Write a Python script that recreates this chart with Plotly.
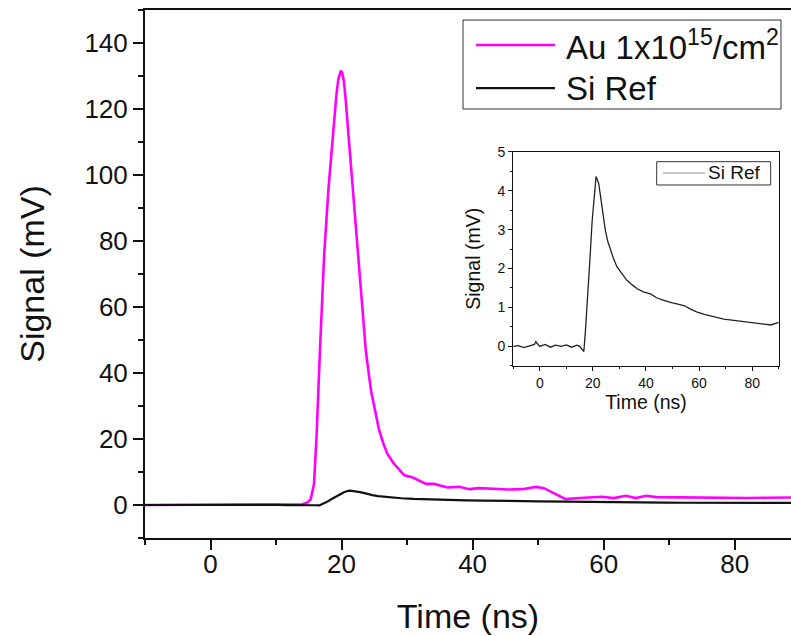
import plotly.graph_objects as go

# ---- data ----
au_t = [-10, 0, 10, 14, 14.8, 15.3, 15.8, 16.2, 16.7, 17.35, 18.0, 18.8, 19.2, 19.5, 19.75,
        19.9, 20.1, 20.35, 20.6, 20.9, 21.7, 22.4, 23.2, 23.7, 24.5, 25.7, 26.4, 27.0, 28.0,
        28.8, 29.6, 30.8, 31.8, 32.9, 34.1, 35.2, 36.2, 38, 39.5, 41, 43.6, 45.5, 47.6, 48.7,
        49.7, 50.9, 52.7, 54.2, 56.3, 58, 59.8, 61.5, 63.4, 64.9, 66.5, 68, 71.6, 74, 76.7,
        79, 81.8, 85, 88.6, 90]
au_v = [0, 0, 0, 0.2, 0.8, 1.8, 6.4, 21.5, 46.8, 76, 95.8, 115.9, 124, 129, 131.2,
        131.6, 131.0, 128.5, 123.5, 115.9, 95.8, 77, 56.8, 46.8, 34.6, 23, 18.5, 15.5, 12.5,
        10.9, 9, 8.4, 7.5, 6.4, 6.4, 5.8, 5.3, 5.5, 4.8, 5.1, 4.8, 4.7, 4.8, 5.1,
        5.5, 5.1, 3.3, 1.8, 2.1, 2.3, 2.5, 2.1, 2.8, 2.1, 2.8, 2.4, 2.3, 2.2, 2.1,
        2.2, 2.1, 2.2, 2.3, 2.3]

si_t = [-10, -8, -6, -4, -2, -1.5, 0, 2, 4, 6, 8, 10, 12, 14, 15, 16, 16.6, 17.2, 17.8,
        18.5, 19.1, 19.7, 20.3, 20.8, 21.2, 21.6, 22.2, 22.8, 23.5, 24.1, 24.7, 25.6, 26.6,
        27.8, 29.1, 31, 32.9, 34.8, 36.7, 39, 41.7, 44, 46.7, 50, 54.3, 57, 59.3, 62, 64.3,
        67, 69.3, 72, 74.4, 77, 79.4, 82, 84.4, 87, 90]
si_v = [0.0, 0.02, -0.03, 0.02, 0.05, 0.12, 0.0, 0.05, -0.02, 0.03, 0.0, 0.04, -0.02, 0.03,
        0.0, -0.08, -0.13, 0.4, 1.0, 1.8, 2.47, 3.2, 3.76, 4.15, 4.36, 4.3, 4.18, 3.9, 3.58,
        3.25, 2.98, 2.7, 2.47, 2.25, 2.04, 1.85, 1.69, 1.58, 1.48, 1.4, 1.35, 1.25, 1.18,
        1.12, 1.05, 0.95, 0.88, 0.82, 0.79, 0.74, 0.7, 0.68, 0.66, 0.63, 0.62, 0.6, 0.58,
        0.55, 0.62]

main_xticks = [0, 20, 40, 60, 80]
main_yticks = [0, 20, 40, 60, 80, 100, 120, 140]
inset_yticks = [0, 1, 2, 3, 4, 5]

FONT = "Liberation Sans, Arial, sans-serif"
INK = "#111111"

fig = go.Figure()
fig.add_trace(go.Scatter(x=au_t, y=au_v, mode="lines", name="Au",
                         line=dict(color="#FF00FF", width=2.6), xaxis="x", yaxis="y",
                         showlegend=False))
fig.add_trace(go.Scatter(x=si_t, y=si_v, mode="lines", name="Si Ref",
                         line=dict(color="#111111", width=2.2), xaxis="x", yaxis="y",
                         showlegend=False))
fig.add_trace(go.Scatter(x=si_t, y=si_v, mode="lines", name="Si Ref inset",
                         line=dict(color="#222222", width=1.3), xaxis="x2", yaxis="y2",
                         showlegend=False))

axis_common = dict(showgrid=False, zeroline=False, showline=True, linecolor=INK,
                   ticks="outside", tickcolor=INK)

fig.update_layout(
    width=791, height=636,
    margin=dict(l=145, r=0, t=10, b=98),
    paper_bgcolor="white", plot_bgcolor="white",
    font=dict(family=FONT, color=INK),
    xaxis=dict(**axis_common, domain=[0, 1], range=[-10, 88.6], linewidth=2,
               mirror=True, tickvals=main_xticks, ticklen=10, tickwidth=2,
               tickfont=dict(size=26), ticklabelstandoff=-8,
               minor=dict(dtick=10, tick0=0, ticks="outside", ticklen=5, tickwidth=2,
                          tickcolor=INK),
               title=dict(text="Time (ns)", font=dict(size=34), standoff=26)),
    yaxis=dict(**axis_common, domain=[0, 1], range=[-10, 150], linewidth=2,
               tickvals=main_yticks, ticklen=10, tickwidth=2,
               tickfont=dict(size=26),
               minor=dict(dtick=10, tick0=0, ticks="outside", ticklen=5, tickwidth=2,
                          tickcolor=INK),
               title=dict(text="Signal (mV)", font=dict(size=34), standoff=30)),
    xaxis2=dict(**axis_common, domain=[0.570, 0.981], anchor="y2", range=[-10, 90],
                linewidth=1, mirror=True, tickvals=main_xticks, ticklen=4, tickwidth=1,
                tickfont=dict(size=14),
                minor=dict(dtick=10, tick0=0, ticks="outside", ticklen=2.5, tickwidth=1,
                           tickcolor=INK),
                title=dict(text="Time (ns)", font=dict(size=19.5), standoff=3)),
    yaxis2=dict(**axis_common, domain=[0.326, 0.7316], anchor="x2", range=[-0.5, 5],
                linewidth=1, mirror=True, tickvals=inset_yticks, ticklen=4, tickwidth=1,
                tickfont=dict(size=14),
                minor=dict(dtick=0.5, tick0=0, ticks="outside", ticklen=2.5, tickwidth=1,
                           tickcolor=INK),
                title=dict(text="Signal (mV)", font=dict(size=19.5), standoff=11)),
)

# ---- manual legends ----
shapes = [
    dict(type="rect", xref="paper", yref="paper", x0=0.4923, x1=0.9845, y0=0.8125, y1=0.981,
         line=dict(color="#333333", width=1), fillcolor="white", layer="above"),
    dict(type="line", xref="paper", yref="paper", x0=0.5124, x1=0.6347, y0=0.9337, y1=0.9337,
         line=dict(color="#FF00FF", width=2.6), layer="above"),
    dict(type="line", xref="paper", yref="paper", x0=0.5124, x1=0.6347, y0=0.852, y1=0.852,
         line=dict(color="#111111", width=2.2), layer="above"),
    dict(type="rect", xref="paper", yref="paper", x0=0.7921, x1=0.9685, y0=0.6686, y1=0.7127,
         line=dict(color="#333333", width=1), fillcolor="white", layer="above"),
    dict(type="line", xref="paper", yref="paper", x0=0.8019, x1=0.8669, y0=0.6913, y1=0.6913,
         line=dict(color="#b5b5b5", width=1.5), layer="above"),
]
annotations = [
    dict(xref="paper", yref="paper", x=0.648, y=0.9337, xanchor="left", yanchor="middle",
         text="Au 1x10<sup>15</sup>/cm<sup>2</sup>", showarrow=False,
         font=dict(size=33, color=INK)),
    dict(xref="paper", yref="paper", x=0.648, y=0.852, xanchor="left", yanchor="middle",
         text="Si Ref", showarrow=False, font=dict(size=33, color=INK)),
    dict(xref="paper", yref="paper", x=0.869, y=0.6913, xanchor="left", yanchor="middle",
         text="Si Ref", showarrow=False, font=dict(size=19, color=INK)),
]
fig.update_layout(shapes=shapes, annotations=annotations)

fig.write_html("out.html")
